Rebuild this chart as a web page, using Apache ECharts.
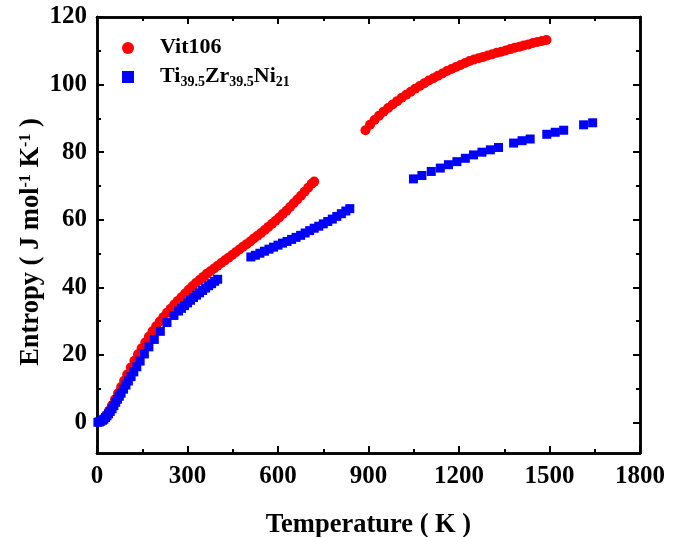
<!DOCTYPE html>
<html>
<head>
<meta charset="utf-8">
<script src="https://cdn.jsdelivr.net/npm/echarts@6/dist/echarts.min.js"></script>
<style>
  html, body { margin: 0; padding: 0; background: #fff; }
  #chart { width: 685px; height: 537px; }
</style>
</head>
<body>
<div id="chart"></div>
<script>
// temperature (K), entropy (J mol-1 K-1)
const vitLow = [[10,0.3],[20,1.0],[30,2.1],[40,3.5],[50,5.1],[60,6.9],[70,8.7],[80,10.5],[90,12.4],[100,14.2],
  [112,16.3],[124,18.3],[136,20.2],[148,22.0],[160,23.7],[172,25.4],[184,27.0],[196,28.5],[208,29.9],[220,31.2],
  [232,32.5],[244,33.7],[256,34.9],[268,36.0],[280,37.1],[292,38.2],[304,39.3],[316,40.3],[328,41.3],[340,42.2],
  [352,43.1],[364,44.0],[376,44.8],[388,45.6],[400,46.4],[412,47.2],[424,48.0],[436,48.8],[448,49.6],[460,50.4],
  [472,51.2],[484,52.0],[496,52.8],[508,53.6],[520,54.5],[532,55.3],[544,56.1],[556,57.0],[568,57.9],[580,58.8],
  [592,59.7],[604,60.7],[616,61.7],[628,62.7],[640,63.8],[652,64.9],[664,66.0],[676,67.1],[688,68.3],[700,69.5],
  [712,70.7],[720,71.3]];
const vitHigh = [[890,86.5],[905,88.1],[920,89.5],[935,90.8],[950,92.0],[965,93.1],[980,94.1],[995,95.1],
  [1010,96.1],[1025,97.0],[1040,97.9],[1055,98.8],[1070,99.6],[1085,100.4],[1100,101.2],[1115,101.9],
  [1130,102.6],[1145,103.3],[1160,104.0],[1175,104.6],[1190,105.2],[1205,105.8],[1220,106.4],[1235,107.0],
  [1250,107.4],[1265,107.8],[1280,108.2],[1295,108.6],[1310,109.0],[1325,109.4],[1340,109.7],[1355,110.1],
  [1370,110.5],[1385,110.9],[1400,111.2],[1415,111.6],[1430,111.9],[1445,112.3],[1460,112.6],[1475,112.9],[1490,113.2]];
const tiLow = [[3,0.1],[8,0.2],[13,0.4],[18,0.7],[23,1.0],[28,1.5],[33,2.0],[38,2.6],[44,3.3],[50,4.1],
  [56,5.0],[62,6.0],[68,6.9],[74,7.8],[80,8.7],[88,9.9],[96,11.1],[104,12.3],[113,13.6],[122,15.0],
  [132,16.5],[143,18.2],[157,20.3],[172,22.4],[190,24.6],[210,27.0],[232,29.6],[255,31.7],[270,33.0],[280,33.8],
  [290,34.6],[300,35.4],[310,36.2],[320,37.0],[330,37.7],[340,38.4],[350,39.1],[360,39.8],[370,40.5],[380,41.1],
  [390,41.8],[400,42.4]];
const tiMid = [[510,49.0],[525,49.5],[540,50.1],[555,50.7],[570,51.3],[585,51.9],[600,52.5],[615,53.1],
  [630,53.6],[645,54.2],[660,54.8],[675,55.4],[690,56.1],[705,56.8],[720,57.5],[735,58.1],[750,58.8],
  [765,59.5],[780,60.2],[795,61.0],[810,61.8],[825,62.6],[838,63.3]];
const tiHigh = [[1049,72.1],[1077,73.1],[1108,74.3],[1138,75.3],[1165,76.3],[1193,77.2],[1221,78.2],[1248,79.2],
  [1276,80.0],[1304,80.7],[1331,81.4],[1381,82.7],[1409,83.4],[1436,83.9],[1491,85.3],[1519,85.9],[1547,86.5],
  [1613,88.1],[1643,88.7]];

const yMajor = [0, 20, 40, 60, 80, 100, 120];
const yMinor = [10, 30, 50, 70, 90, 110];
const xMajor = [0, 300, 600, 900, 1200, 1500, 1800];
const xMinor = [150, 450, 750, 1050, 1350, 1650];

const font = 'Liberation Serif, Times New Roman, serif';
const axisLine = () => ({ show: true, onZero: false, lineStyle: { color: '#000', width: 2.5 } });
const tickStyle = { color: '#000', width: 2 };
const label = { color: '#000', fontFamily: font, fontWeight: 'bold', fontSize: 25 };

// ticks and labels are listed explicitly (y min -9 is not on the tick step)
const axis = (dim, pos, ticks, len, withLabels) => ({
  type: 'value', position: pos,
  min: dim === 'x' ? 0 : -9, max: dim === 'x' ? 1800 : 120,
  axisLine: axisLine(), splitLine: { show: false },
  axisTick: { show: true, inside: true, length: len, customValues: ticks, lineStyle: tickStyle },
  axisLabel: withLabels
    ? Object.assign({ margin: dim === 'x' ? 11 : 10, customValues: ticks, formatter: (v) => String(v) }, label)
    : { show: false }
});

const xBottom = axis('x', 'bottom', xMajor, 7, true);
Object.assign(xBottom, {
  name: 'Temperature ( K )', nameLocation: 'middle', nameGap: 59, nameMoveOverlap: false,
  nameTextStyle: { color: '#000', fontFamily: font, fontWeight: 'bold', fontSize: 26.5 }
});

const yLeft = axis('y', 'left', yMajor, 7, true);
Object.assign(yLeft, {
  name: '{n|Entropy ( J mol}{s|-1}{n| K}{s|-1}{n| )}', nameLocation: 'middle', nameGap: 49, nameMoveOverlap: false,
  nameTextStyle: {
    color: '#000', fontFamily: font, fontWeight: 'bold', fontSize: 26.5, padding: [0, 14, 0, 0],
    rich: {
      n: { color: '#000', fontFamily: font, fontWeight: 'bold', fontSize: 26.5, lineHeight: 30, verticalAlign: 'top' },
      s: { color: '#000', fontFamily: font, fontWeight: 'bold', fontSize: 16, lineHeight: 16, verticalAlign: 'top' }
    }
  }
});

const chart = echarts.init(document.getElementById('chart'));

chart.setOption({
  animation: false,
  backgroundColor: '#fff',
  grid: { left: 97, right: 45, top: 17, bottom: 84, outerBoundsMode: 'none', containLabel: false },
  legend: {
    orient: 'vertical', left: 117, top: 31, padding: 5,
    itemWidth: 12, itemHeight: 12, itemGap: 7,
    selectedMode: false,
    data: [{ name: 'Vit106', icon: 'circle' }, { name: 'Ti39.5Zr39.5Ni21', icon: 'rect' }],
    formatter: (name) => name === 'Vit106'
      ? '{n|Vit106}'
      : '{n|Ti}{s|39.5}{n|Zr}{s|39.5}{n|Ni}{s|21}',
    textStyle: {
      padding: [0, 0, 0, 21],
      rich: {
        n: { color: '#000', fontFamily: font, fontWeight: 'bold', fontSize: 22, lineHeight: 24, verticalAlign: 'top' },
        s: { color: '#000', fontFamily: font, fontWeight: 'bold', fontSize: 14, lineHeight: 24, verticalAlign: 'bottom' }
      }
    }
  },
  xAxis: [xBottom, axis('x', 'bottom', xMinor, 4, false), axis('x', 'top', xMajor, 7, false), axis('x', 'top', xMinor, 4, false)],
  yAxis: [yLeft, axis('y', 'left', yMinor, 4, false), axis('y', 'right', yMajor, 7, false), axis('y', 'right', yMinor, 4, false)],
  series: [
    { name: 'Vit106', type: 'scatter', data: vitLow, symbol: 'circle', symbolSize: 10, itemStyle: { color: '#ff0000', opacity: 1 } },
    { name: 'Vit106', type: 'scatter', data: vitHigh, symbol: 'circle', symbolSize: 10, itemStyle: { color: '#ff0000', opacity: 1 } },
    { name: 'Ti39.5Zr39.5Ni21', type: 'scatter', data: tiLow, symbol: 'rect', symbolSize: 9, itemStyle: { color: '#0000ff', opacity: 1 } },
    { name: 'Ti39.5Zr39.5Ni21', type: 'scatter', data: tiMid, symbol: 'rect', symbolSize: 9, itemStyle: { color: '#0000ff', opacity: 1 } },
    { name: 'Ti39.5Zr39.5Ni21', type: 'scatter', data: tiHigh, symbol: 'rect', symbolSize: 9, itemStyle: { color: '#0000ff', opacity: 1 } }
  ]
});
</script>
</body>
</html>
